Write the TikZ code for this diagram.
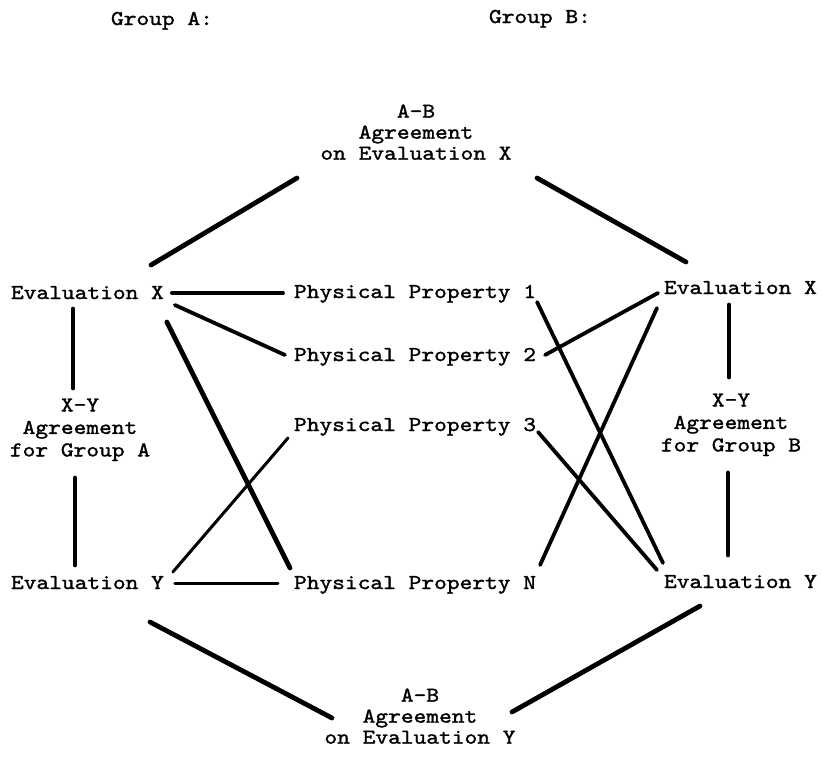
\documentclass[tikz,border=0pt]{standalone}
\usepackage{fontspec}
\newfontfamily\cour{lmmono10-regular.otf}[FakeStretch=1.15,FakeBold=1.4]
\begin{document}
\begin{tikzpicture}[x=1pt,y=-1pt,
  lbl/.style={font={\cour\fontsize{21.1}{21}\selectfont}, inner sep=0pt, outer sep=0pt},
  blk/.style={lbl, align=center},
  xyblk/.style={inner sep=0pt, outer sep=0pt, align=center, font={\cour\fontsize{21.1}{22.5}\selectfont}},
  heavy/.style={line width=4.8pt, line cap=round},
  medium/.style={line width=3.8pt, line cap=round},
  light/.style={line width=3pt, line cap=round}]
\useasboundingbox (0,0) rectangle (823,774);

\node[lbl,anchor=base west] (grpA) at (111,25) {Group A:};
\node[lbl,anchor=base west] (grpB) at (489,23) {Group B:};
\node[blk,anchor=north] (abX) at (416,104.5) {A-B\\Agreement\\on Evaluation X};
\node[lbl,anchor=base west] (evxL) at (11,299) {Evaluation X};
\node[lbl,anchor=base west] (pp1) at (294,298) {Physical Property 1};
\node[lbl,anchor=base west] (pp2) at (294,361) {Physical Property 2};
\node[lbl,anchor=base west] (pp3) at (294,431) {Physical Property 3};
\node[lbl,anchor=base west] (ppN) at (294,589) {Physical Property N};
\node[lbl,anchor=base west] (evxR) at (664,294) {Evaluation X};
\node[lbl,anchor=base west] (evyR) at (664,588) {Evaluation Y};
\node[lbl,anchor=base west] (evyL) at (11,589) {Evaluation Y};
\node[xyblk,anchor=north] (xyA) at (80,398.5) {X-Y\\Agreement\\for Group A};
\node[xyblk,anchor=north] (xyB) at (731,393.5) {X-Y\\Agreement\\for Group B};
\node[blk,anchor=north] (abY) at (420,688.5) {A-B\\Agreement\\on Evaluation Y};

% group A links
\draw[medium] ([shift={(8,-6)}]evxL.base east) -- ([shift={(-11,-5)}]pp1.base west);
\draw[medium] ([shift={(11,6)}]evxL.base east) -- ([shift={(-9,-6)}]pp2.base west);
\draw[heavy] ([shift={(3,23)}]evxL.base east) -- ([shift={(-4,-21)}]ppN.base west);
\draw[light] ([shift={(9,-17)}]evyL.base east) -- ([shift={(-6,7)}]pp3.base west);
\draw[light] ([shift={(11,-6)}]evyL.base east) -- ([shift={(-16,-6)}]ppN.base west);
% group B links
\draw[medium] ([shift={(1,4)}]pp1.base east) -- ([shift={(-1,-25)}]evyR.base west);
\draw[medium] ([shift={(9,-6)}]pp2.base east) -- ([shift={(-6,-1)}]evxR.base west);
\draw[medium] ([shift={(2,1)}]pp3.base east) -- ([shift={(-7,-18)}]evyR.base west);
\draw[medium] ([shift={(4,-24)}]ppN.base east) -- ([shift={(-7,14)}]evxR.base west);
% A-B agreement links
\draw[heavy] ([shift={(-119,73.5)}]abX.north) -- ([shift={(140,-34)}]evxL.base west);
\draw[heavy] ([shift={(121,73.5)}]abX.north) -- ([shift={(22,-32)}]evxR.base west);
\draw[heavy] ([shift={(-88,29.5)}]abY.north) -- ([shift={(139,33)}]evyL.base west);
\draw[heavy] ([shift={(92,23.5)}]abY.north) -- ([shift={(36,18)}]evyR.base west);
% X-Y agreement links
\draw[heavy] ([shift={(62,10)}]evxL.base west) -- ([shift={(-7,-10.5)}]xyA.north);
\draw[heavy] ([shift={(-5,79.5)}]xyA.north) -- ([shift={(64,-24)}]evyL.base west);
\draw[heavy] ([shift={(65,11)}]evxR.base west) -- ([shift={(-2,-16.5)}]xyB.north);
\draw[heavy] ([shift={(-3,79.5)}]xyB.north) -- ([shift={(64,-33)}]evyR.base west);
\end{tikzpicture}
\end{document}
